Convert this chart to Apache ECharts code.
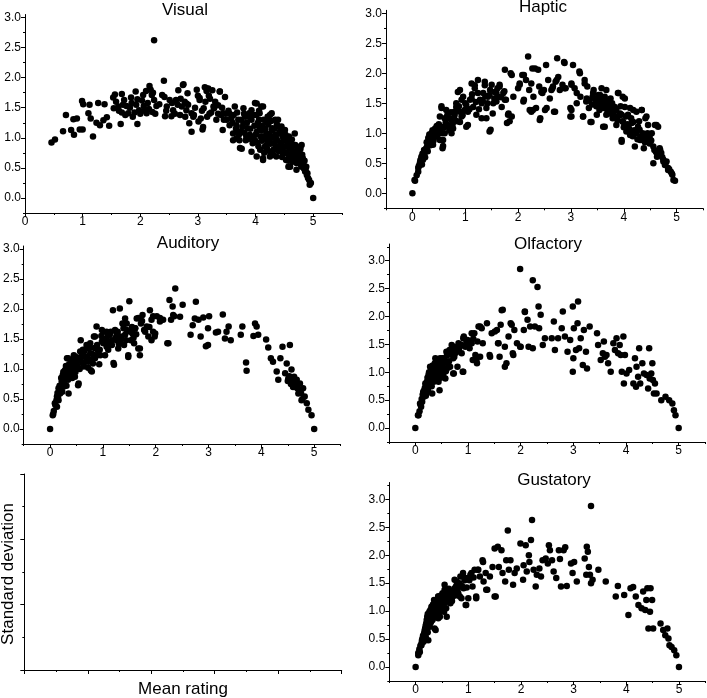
<!DOCTYPE html>
<html><head><meta charset="utf-8">
<script src="https://cdn.jsdelivr.net/npm/echarts@6/dist/echarts.min.js"></script>
<style>html,body{margin:0;padding:0;background:#fff}#c{width:707px;height:698px}</style>
</head><body><div id="c"></div>
<script>
const panelTitles = ['Visual', 'Haptic', 'Auditory', 'Olfactory', 'Gustatory'];
const xTickLabels = [0, 1, 2, 3, 4, 5];
const yTickLabels = [0, 0.5, 1, 1.5, 2, 2.5, 3];
const xMinorTicks = [-0.5, 0.5, 1.5, 2.5, 3.5, 4.5, 5.5];
const yMinorTicks = [-0.25, 0.25, 0.75, 1.25, 1.75, 2.25, 2.75, 3.25];
const emptyXTicks = [0, 1, 2, 3, 4, 5];
const emptyXMinor = [0.5, 1.5, 2.5, 3.5, 4.5];
const emptyYTicks = [0, 1, 2, 3];
const emptyYMinor = [0.5, 1.5, 2.5];
const yAxisTitle = 'Standard deviation';
const xAxisTitle = 'Mean rating';

const visualPts = [[0.46,0.92],[0.52,0.97],[0.71,1.38],[0.66,1.11],[0.80,1.13],[0.85,1.05],[0.84,1.31],[0.90,1.32],[0.95,1.14],[1.00,1.14],[0.99,1.61],[1.01,1.56],[1.12,1.55],[1.10,1.41],[1.14,1.32],[1.18,1.02],[1.27,1.58],[1.24,1.25],[1.30,1.21],[1.36,1.29],[1.38,1.56],[1.42,1.34],[1.46,1.20],[1.53,1.67],[1.56,1.72],[1.54,1.49],[1.62,1.52],[1.68,1.42],[1.68,1.73],[1.66,1.23],[1.72,1.63],[1.76,1.53],[1.79,1.41],[1.84,1.67],[1.87,1.35],[1.92,1.77],[1.95,1.64],[1.95,1.23],[1.98,1.46],[2.05,1.71],[2.06,1.53],[2.11,1.41],[2.10,1.78],[2.16,1.86],[2.18,1.80],[2.20,1.71],[2.21,1.43],[2.24,2.62],[2.24,1.63],[2.28,1.53],[2.33,1.56],[2.38,1.71],[2.41,1.95],[2.42,1.68],[2.43,1.36],[2.46,1.52],[2.51,1.63],[2.54,1.36],[2.57,1.46],[2.62,1.63],[2.66,1.79],[2.69,1.38],[2.75,1.89],[2.72,1.52],[2.77,1.60],[2.80,1.46],[2.82,1.74],[2.85,1.24],[2.89,1.10],[2.89,1.41],[2.93,1.38],[2.98,1.80],[3.01,1.27],[3.03,1.63],[3.05,1.32],[3.08,1.14],[3.10,1.49],[3.12,1.84],[3.15,1.78],[3.16,1.35],[3.18,1.82],[3.21,1.65],[3.23,1.42],[3.25,1.79],[3.28,1.49],[3.32,1.30],[3.35,1.54],[3.38,1.77],[3.40,1.38],[3.43,1.13],[3.47,1.68],[3.50,1.30],[3.53,1.45],[3.55,1.21],[3.58,1.32],[3.61,1.07],[3.64,1.52],[3.67,1.21],[3.70,1.30],[3.72,0.96],[3.74,1.10],[3.76,0.82],[3.79,1.49],[3.82,1.35],[3.83,0.96],[3.86,1.16],[3.89,1.41],[3.90,1.05],[3.93,1.30],[3.95,0.91],[3.99,1.58],[4.01,1.38],[4.02,1.10],[4.05,0.86],[4.06,1.30],[4.09,1.02],[4.10,1.52],[4.12,1.20],[4.13,0.66],[4.16,0.85],[4.19,1.07],[4.21,1.35],[4.23,0.96],[4.25,0.77],[4.28,1.41],[4.29,1.16],[4.32,0.91],[4.34,1.05],[4.36,0.69],[4.39,1.30],[4.41,1.07],[4.43,0.85],[4.45,1.19],[4.47,0.74],[4.49,0.96],[4.51,1.13],[4.53,0.63],[4.55,0.85],[4.57,0.52],[4.58,1.02],[4.60,0.72],[4.62,0.91],[4.64,0.60],[4.66,0.77],[4.68,1.07],[4.70,0.69],[4.72,0.85],[4.74,0.58],[4.77,0.74],[4.80,0.88],[4.82,0.66],[4.84,0.49],[4.87,0.46],[4.90,0.41],[4.91,0.33],[4.94,0.22],[5.00,0.00],
[4.02,1.57],[4.13,1.52],[3.93,1.46],[4.07,1.41],[4.25,1.38],[4.19,1.27],[4.34,1.30],[4.42,1.18],[4.07,1.18],[4.28,1.13],[4.48,1.05],[4.36,0.99],[4.13,1.02],[4.54,0.94],[4.62,0.85],[4.42,0.85],[4.68,0.77],[4.57,0.71],[4.74,0.69],[4.65,0.63],[4.25,0.69],[4.19,0.88],[4.31,0.80],[4.80,0.52],[4.86,0.44],[4.48,0.77],[3.99,0.96],[3.84,1.02],[3.79,1.24],[3.70,1.10],[3.61,0.96],[3.73,0.83],[3.93,0.77],[4.02,0.69],[4.13,0.63],[4.60,0.52],[4.71,0.47],[2.74,1.88],[3.15,1.82],[3.38,1.77],[2.80,1.57],[3.03,1.66],[3.27,1.52],[3.44,1.41],[2.92,1.35],[3.09,1.18],[3.67,0.99],
[3.55,1.40],[3.60,1.25],[3.62,1.38],[3.66,1.15],[3.68,1.42],[3.71,1.05],[3.75,1.30],[3.77,1.18],[3.80,1.40],[3.81,1.08],[3.85,1.25],[3.87,0.98],[3.88,1.35],[3.91,1.15],[3.94,1.00],[3.96,1.38],[3.98,1.20],[4.00,1.05],[4.03,0.92],[4.04,1.25],[4.06,1.45],[4.08,0.80],[4.10,1.12],[4.11,0.95],[4.14,1.30],[4.15,0.75],[4.17,1.15],[4.18,0.98],[4.20,0.82],[4.22,1.22],[4.24,1.05],[4.26,0.90],[4.27,1.28],[4.30,1.00],[4.31,0.72],[4.33,1.15],[4.35,0.85],[4.37,1.22],[4.38,0.95],[4.40,0.78],[4.42,1.10],[4.44,0.92],[4.46,0.68],[4.47,1.02],[4.50,0.85],[4.52,1.05],[4.53,0.75],[4.56,0.95],[4.57,0.62],[4.59,0.82],[4.61,0.68],[4.63,0.97],[4.64,0.78],[4.67,0.65],[4.69,0.88],[4.71,0.58],[4.73,0.78],[4.76,0.62],[4.78,0.82],[4.79,0.55],[4.81,0.72],[4.83,0.58],[4.85,0.62],[4.88,0.52],[4.89,0.38],[4.93,0.30],[4.96,0.25],
[2.45,1.45],[2.55,1.58],[2.60,1.40],[2.65,1.55],[2.70,1.65],[2.78,1.35],[2.83,1.55],[2.95,1.50],[3.00,1.70],[3.07,1.45],[3.13,1.60],[3.19,1.70],[3.20,1.40],[3.30,1.60],[3.35,1.40],[3.42,1.50],[3.45,1.30],[3.48,1.40],
[1.58,1.60],[1.63,1.45],[1.70,1.55],[1.74,1.38],[1.82,1.50],[1.85,1.58],[1.90,1.42],[1.93,1.55],[2.00,1.40],[2.03,1.62],[2.08,1.45],[2.13,1.58],[2.15,1.48],[2.22,1.75],[2.26,1.40]];

const hapticPts = [[0,0],[0.05,0.21],[0.11,0.42],[0.14,0.50],[0.17,0.61],[0.20,0.56],[0.23,0.67],[0.28,0.78],[0.30,0.92],[0.33,0.86],[0.36,1.00],[0.39,0.81],[0.42,0.94],[0.47,1.03],[0.51,1.08],[0.52,1.28],[0.55,1.42],[0.57,0.75],[0.58,0.89],[0.61,1.00],[0.64,1.39],[0.68,1.11],[0.71,1.25],[0.74,1.00],[0.77,1.08],[0.80,1.31],[0.83,1.44],[0.86,1.69],[0.90,1.19],[0.93,1.28],[0.96,1.61],[0.99,1.39],[1.02,1.11],[1.05,1.36],[1.09,1.56],[1.12,1.83],[1.15,1.44],[1.18,1.75],[1.21,1.31],[1.24,1.89],[1.28,1.56],[1.31,1.25],[1.34,1.67],[1.37,1.86],[1.40,1.42],[1.43,1.61],[1.46,1.03],[1.50,1.81],[1.52,1.33],[1.56,1.69],[1.59,1.53],[1.62,1.61],[1.65,1.81],[1.69,1.44],[1.72,1.67],[1.75,2.06],[1.77,1.56],[1.79,1.17],[1.82,1.33],[1.86,2.00],[1.88,1.28],[1.91,1.61],[2.00,1.75],[2.03,1.83],[2.08,1.97],[2.11,1.56],[2.15,1.89],[2.19,2.28],[2.21,1.72],[2.22,1.39],[2.25,1.36],[2.27,2.08],[2.29,1.61],[2.32,2.08],[2.34,1.42],[2.38,2.06],[2.40,1.78],[2.42,1.25],[2.46,1.67],[2.49,1.72],[2.53,2.14],[2.54,1.42],[2.57,1.89],[2.60,1.58],[2.65,1.75],[2.68,1.36],[2.71,1.86],[2.74,2.25],[2.76,1.94],[2.79,1.72],[2.84,1.81],[2.87,2.19],[2.90,1.75],[2.99,1.42],[2.99,1.28],[3.01,1.81],[3.04,2.14],[3.07,1.75],[3.11,1.50],[3.16,2.03],[3.18,1.61],[3.23,1.28],[3.26,1.89],[3.29,1.53],[3.31,1.78],[3.34,1.42],[3.37,1.19],[3.41,1.61],[3.43,1.72],[3.47,1.50],[3.49,1.31],[3.52,1.64],[3.54,1.39],[3.56,1.56],[3.58,1.75],[3.61,1.11],[3.62,1.42],[3.64,1.61],[3.67,1.31],[3.69,1.50],[3.72,1.39],[3.75,1.58],[3.79,1.25],[3.83,1.44],[3.86,1.14],[3.90,1.67],[3.93,1.33],[3.96,0.86],[3.98,1.61],[3.99,1.19],[4.02,1.44],[4.05,1.03],[4.08,1.31],[4.12,0.97],[4.15,1.17],[4.18,1.39],[4.21,0.78],[4.24,1.00],[4.27,1.11],[4.31,0.89],[4.34,1.39],[4.36,1.00],[4.38,0.75],[4.41,1.25],[4.43,0.92],[4.46,1.14],[4.49,0.83],[4.53,1.00],[4.56,0.50],[4.59,1.14],[4.61,0.69],[4.63,0.61],[4.65,1.11],[4.68,0.75],[4.71,0.67],[4.75,0.56],[4.78,0.47],[4.81,0.53],[4.84,0.42],[4.89,0.36],[4.92,0.31],[4.97,0.21],
[0.04,0.22],[0.11,0.36],[0.14,0.47],[0.17,0.58],[0.25,0.70],[0.31,0.80],[0.33,0.95],[0.39,0.97],[0.45,1.06],[0.55,1.11],[0.52,0.89],[0.58,0.79],[0.61,1.25],[0.67,1.14],[0.55,1.45],[0.74,1.22],[0.80,1.36],[0.90,1.36],[0.83,1.50],[0.93,1.56],[1.02,1.47],[1.05,1.14],[0.90,1.72],[1.12,1.58],[1.18,1.80],[1.24,1.67],[1.31,1.50],[1.37,1.80],[1.40,1.25],[1.46,1.64],[1.53,1.50],[1.59,1.67],[1.48,1.06],[1.65,1.78],[1.75,1.56],[1.81,1.31],[1.84,1.20],[1.88,1.97],[2.03,1.81],[2.10,1.53],[2.11,1.97],[2.25,1.83],[2.28,1.39],[2.41,1.22],[2.44,1.69],[2.51,1.39],[2.63,1.72],
[2.88,2.17],[3.17,2.00],[2.73,1.89],[2.66,1.78],[2.88,1.75],[3.01,1.83],[3.11,1.67],[3.26,1.83],[3.30,1.58],[3.42,1.67],[3.55,1.64],[3.67,1.72],[3.64,1.53],[3.74,1.44],[3.86,1.39],[3.96,1.31],[3.89,1.67],[4.02,1.58],[4.12,1.42],[4.24,1.36],[4.34,1.39],[4.18,1.19],[4.12,1.00],[4.30,1.06],[4.43,1.28],[4.37,0.89],[4.49,0.94],[4.62,1.14],[4.56,0.78],[4.65,0.69],[4.75,0.53],[4.84,0.39],[4.94,0.22],[3.96,0.89],[3.39,1.19],[3.23,1.28],[3.01,1.28],[3.01,1.39],[2.70,1.36],[3.64,1.11],
[0.08,0.30],[0.12,0.45],[0.15,0.55],[0.18,0.48],[0.19,0.66],[0.21,0.62],[0.22,0.72],[0.24,0.60],[0.26,0.75],[0.27,0.85],[0.29,0.70],[0.31,0.88],[0.32,0.98],[0.34,0.80],[0.35,0.90],[0.37,0.95],[0.38,1.05],[0.40,0.88],[0.41,1.00],[0.43,1.08],[0.44,0.95],[0.46,1.12],[0.48,0.98],[0.50,1.15],[0.53,1.05],[0.56,1.00],[0.60,1.10],[0.63,1.18],[0.66,1.30],[0.70,1.05],[0.73,1.35],[0.76,1.15],[0.79,1.25],[0.85,1.20],[0.88,1.45],[0.95,1.30],[1.00,1.50],[1.08,1.40],[1.13,1.65],[1.20,1.52],[1.26,1.40],[1.33,1.55],[1.38,1.62],[1.42,1.50],[1.47,1.72],[1.55,1.58],[1.61,1.75],[1.68,1.60],[1.74,1.70],
[3.35,1.55],[3.40,1.48],[3.45,1.58],[3.48,1.45],[3.50,1.55],[3.53,1.48],[3.57,1.42],[3.60,1.52],[3.63,1.45],[3.66,1.55],[3.68,1.40],[3.71,1.48],[3.73,1.33],[3.76,1.42],[3.78,1.50],[3.80,1.35],[3.82,1.28],[3.85,1.40],[3.88,1.22],[3.91,1.30],[3.94,1.45],[3.97,1.20],[4.00,1.10],[4.04,1.28],[4.07,1.15],[4.10,1.08],[4.14,1.25],[4.17,0.95],[4.20,1.05],[4.26,0.90],[4.29,1.20],[4.33,0.95],[4.40,0.85],[4.45,1.00],[4.52,0.88],[4.58,0.72],[4.64,0.65],[4.69,0.72],[4.73,0.60],[4.79,0.50],[4.86,0.40],[4.91,0.33]];

const auditoryPts = [[0,0],[0.05,0.23],[0.09,0.43],[0.13,0.54],[0.16,0.68],[0.19,0.59],[0.22,0.79],[0.24,0.90],[0.26,0.71],[0.28,0.98],[0.32,0.84],[0.34,1.18],[0.35,0.59],[0.38,1.04],[0.41,0.93],[0.43,1.13],[0.45,1.23],[0.47,0.87],[0.50,1.09],[0.54,0.76],[0.57,1.15],[0.58,1.48],[0.62,1.32],[0.64,1.04],[0.66,1.21],[0.69,1.40],[0.73,1.12],[0.76,1.26],[0.77,0.98],[0.81,1.09],[0.83,1.54],[0.85,1.18],[0.88,1.71],[0.91,1.32],[0.93,1.08],[0.95,1.23],[0.98,1.65],[1.01,1.43],[1.04,1.23],[1.07,1.62],[1.10,1.32],[1.13,1.57],[1.17,1.40],[1.19,1.98],[1.21,1.07],[1.23,1.65],[1.26,1.48],[1.29,1.34],[1.32,2.01],[1.34,1.54],[1.37,1.76],[1.40,1.40],[1.42,1.84],[1.45,1.65],[1.48,1.23],[1.50,2.13],[1.53,1.48],[1.56,1.59],[1.59,1.43],[1.61,1.68],[1.64,1.84],[1.67,1.34],[1.70,1.23],[1.72,1.76],[1.75,1.90],[1.78,1.65],[1.86,1.54],[1.89,1.98],[1.92,1.48],[1.95,1.88],[1.99,1.59],[2.02,1.88],[2.08,1.79],[2.14,1.82],[2.22,1.43],[2.26,2.15],[2.29,1.82],[2.32,2.04],[2.35,1.88],[2.37,2.34],[2.46,1.87],[2.51,2.07],[2.66,1.57],[2.70,1.73],[2.74,1.84],[2.76,2.12],[2.81,1.82],[2.85,1.54],[2.90,1.86],[2.95,1.38],[2.99,1.40],[2.99,1.68],[3.01,1.88],[3.14,1.61],[3.18,1.62],[3.27,1.91],[3.31,1.51],[3.34,1.62],[3.38,1.71],[3.42,1.48],[3.61,1.57],[3.64,1.71],[3.71,1.11],[3.72,0.97],[3.88,1.76],[3.91,1.71],[3.94,1.57],[3.85,1.55],[4.09,1.49],[4.13,1.36],[4.18,1.18],[4.22,1.12],[4.29,0.96],[4.32,0.82],[4.36,1.18],[4.40,1.37],[4.45,0.93],[4.48,1.09],[4.51,0.84],[4.54,1.40],[4.55,0.79],[4.57,0.99],[4.59,0.76],[4.62,0.87],[4.64,0.71],[4.67,0.82],[4.70,0.59],[4.73,0.76],[4.76,0.48],[4.79,0.68],[4.82,0.54],[4.86,0.43],[4.89,0.32],[4.95,0.23],[5.00,0.00],
[0.06,0.25],[0.13,0.37],[0.16,0.48],[0.19,0.65],[0.25,0.76],[0.32,0.87],[0.35,0.98],[0.41,1.10],[0.32,1.18],[0.50,1.18],[0.57,1.29],[0.63,1.23],[0.53,0.73],[0.69,1.34],[0.79,0.96],[0.76,1.43],[0.85,1.54],[0.91,1.29],[0.98,1.46],[1.01,1.62],[1.07,1.37],[1.20,1.10],[1.17,1.48],[1.26,1.59],[1.32,1.46],[1.42,1.57],[1.48,1.20],[1.45,1.76],[1.61,1.68],[1.70,1.34],[1.67,1.85],[1.83,1.71],[1.92,1.82],[1.98,1.54],[2.08,1.85],[2.24,1.43],[2.33,1.90],
[0.07,0.30],[0.10,0.40],[0.12,0.48],[0.14,0.60],[0.15,0.52],[0.17,0.62],[0.18,0.72],[0.20,0.68],[0.21,0.85],[0.23,0.62],[0.23,0.75],[0.25,0.95],[0.27,0.80],[0.29,0.88],[0.30,1.05],[0.31,0.72],[0.33,0.95],[0.34,0.82],[0.36,1.08],[0.37,0.90],[0.39,0.98],[0.40,1.15],[0.42,0.85],[0.44,1.02],[0.46,1.12],[0.48,0.95],[0.49,1.20],[0.52,1.05],[0.55,1.18],[0.56,1.00],[0.60,1.22],[0.61,1.10],[0.65,1.30],[0.67,1.12],[0.70,1.20],[0.72,1.02],[0.75,1.35],[0.78,1.15],[0.80,1.25],[0.84,1.35],[0.87,1.22],[0.89,1.40],[0.94,1.32],[0.97,1.55],[1.03,1.50],[1.06,1.45],[1.09,1.55],[1.12,1.45],[1.15,1.62],[1.24,1.52],[1.28,1.62],[1.30,1.42],[1.35,1.50],[1.39,1.68],[1.44,1.48],[1.52,1.62],[1.55,1.70],[1.58,1.52],[1.63,1.58],[1.74,1.80],[1.80,1.62],[1.88,1.70],[1.95,1.62],
[4.50,0.80],[4.53,0.88],[4.56,0.75],[4.58,0.82],[4.60,0.70],[4.63,0.80],[4.66,0.76],[4.68,0.68],[4.72,0.66],[4.75,0.60],[4.78,0.50]];

const olfactoryPts = [[0,0],[0.06,0.23],[0.11,0.38],[0.13,0.47],[0.16,0.56],[0.17,0.68],[0.21,0.62],[0.22,0.83],[0.25,0.74],[0.27,0.92],[0.28,1.10],[0.32,0.62],[0.33,0.98],[0.35,0.83],[0.38,1.25],[0.40,1.04],[0.42,0.89],[0.44,1.16],[0.46,0.68],[0.49,0.98],[0.51,1.25],[0.54,1.07],[0.57,0.89],[0.59,1.37],[0.61,1.16],[0.65,1.40],[0.66,1.10],[0.69,1.49],[0.73,0.98],[0.74,1.28],[0.78,1.40],[0.80,1.10],[0.84,1.46],[0.88,1.34],[0.90,1.01],[0.92,1.64],[0.95,1.46],[0.99,1.58],[1.03,1.43],[1.05,1.55],[1.09,1.22],[1.12,1.70],[1.14,1.31],[1.17,1.16],[1.20,1.82],[1.23,1.28],[1.26,1.79],[1.28,1.52],[1.36,1.88],[1.41,1.31],[1.45,1.70],[1.55,1.76],[1.58,1.52],[1.60,1.28],[1.62,1.85],[1.66,2.12],[1.70,1.46],[1.73,1.16],[1.77,1.64],[1.81,1.88],[1.85,1.34],[1.88,1.76],[1.93,1.52],[1.99,2.85],[2.00,1.46],[2.06,1.76],[2.08,2.09],[2.13,1.94],[2.15,1.46],[2.18,1.82],[2.23,2.65],[2.23,1.43],[2.27,1.82],[2.32,2.53],[2.34,2.18],[2.35,1.79],[2.38,2.03],[2.42,1.49],[2.46,1.61],[2.59,1.61],[2.63,1.91],[2.65,1.40],[2.71,1.61],[2.78,1.79],[2.80,2.09],[2.84,1.64],[2.89,1.37],[2.94,1.58],[2.99,2.18],[2.99,1.01],[3.00,1.25],[3.01,1.79],[3.05,1.40],[3.08,1.88],[3.09,2.27],[3.11,1.43],[3.14,1.61],[3.18,1.13],[3.20,1.76],[3.24,1.37],[3.26,1.07],[3.31,1.82],[3.45,1.70],[3.47,1.49],[3.52,1.22],[3.56,1.34],[3.58,1.55],[3.60,1.28],[3.63,1.31],[3.66,1.16],[3.71,1.01],[3.76,1.52],[3.79,1.40],[3.82,1.61],[3.85,1.34],[3.88,1.49],[3.90,1.31],[3.92,1.01],[3.95,1.64],[3.96,0.80],[3.98,1.31],[4.01,0.98],[4.06,1.04],[4.14,0.80],[4.17,1.25],[4.19,0.74],[4.20,1.10],[4.23,0.92],[4.25,1.43],[4.27,0.80],[4.31,1.16],[4.34,0.98],[4.39,0.95],[4.42,0.71],[4.44,1.43],[4.45,0.89],[4.48,0.98],[4.50,1.16],[4.51,0.86],[4.53,0.62],[4.55,0.80],[4.58,0.62],[4.67,0.50],[4.75,0.56],[4.82,0.50],[4.88,0.44],[4.91,0.32],[4.94,0.23],[5.00,0.00],
[0.05,0.23],[0.09,0.44],[0.15,0.65],[0.20,0.77],[0.25,0.95],[0.31,1.07],[0.37,1.16],[0.41,1.01],[0.47,1.25],[0.44,0.83],[0.56,1.19],[0.63,1.37],[0.72,1.46],[0.82,1.52],[0.91,1.61],[0.72,0.98],[0.91,1.01],[1.07,1.70],[1.16,1.22],[1.23,1.82],[1.42,1.28],[1.51,1.73],[1.64,2.11],[1.70,1.10],[1.57,1.52],[1.83,1.85],[1.86,1.31],[1.99,1.46],[2.08,2.08],
[0.08,0.30],[0.10,0.42],[0.12,0.52],[0.14,0.60],[0.18,0.72],[0.19,0.80],[0.20,0.58],[0.23,0.90],[0.24,0.68],[0.26,1.00],[0.27,0.80],[0.29,0.88],[0.30,1.05],[0.31,0.75],[0.33,1.12],[0.34,0.92],[0.36,1.02],[0.37,0.85],[0.39,1.18],[0.40,0.95],[0.42,1.08],[0.43,1.22],[0.45,1.00],[0.47,1.12],[0.48,0.90],[0.50,1.05],[0.52,1.15],[0.53,0.95],[0.55,1.25],[0.58,1.02],[0.60,1.30],[0.62,1.08],[0.64,1.20],[0.67,1.32],[0.70,1.40],[0.72,1.25],[0.75,1.45],[0.77,1.35],[0.83,1.42],[0.86,1.50],[0.93,1.48],[0.97,1.55],[1.00,1.50],[1.07,1.52],[1.10,1.60],[1.18,1.55]];

const gustatoryPts = [[0,0],[0.05,0.21],[0.08,0.27],[0.11,0.42],[0.13,0.51],[0.16,0.60],[0.18,0.69],[0.20,0.78],[0.22,0.90],[0.24,0.48],[0.26,0.99],[0.27,0.72],[0.30,1.08],[0.32,0.84],[0.35,1.20],[0.37,0.96],[0.38,0.66],[0.41,1.05],[0.43,1.26],[0.46,0.90],[0.49,1.14],[0.51,1.32],[0.54,0.99],[0.55,1.47],[0.59,0.90],[0.60,1.20],[0.64,1.35],[0.66,1.14],[0.70,1.26],[0.74,1.41],[0.78,1.53],[0.81,1.32],[0.85,1.62],[0.87,1.23],[0.90,1.68],[0.91,1.41],[0.95,1.11],[0.98,1.59],[1.00,1.23],[1.04,1.65],[1.08,1.44],[1.12,1.74],[1.15,1.26],[1.19,1.74],[1.22,1.62],[1.27,1.91],[1.29,1.53],[1.33,1.68],[1.36,1.38],[1.41,1.62],[1.46,1.79],[1.50,2.12],[1.52,1.26],[1.56,2.15],[1.58,1.79],[1.63,2.09],[1.65,1.68],[1.70,1.53],[1.72,1.91],[1.75,2.44],[1.77,1.74],[1.80,1.91],[1.85,1.47],[1.88,1.68],[1.92,1.76],[1.99,2.21],[2.04,1.56],[2.05,1.82],[2.09,2.18],[2.11,1.71],[2.15,2.00],[2.16,1.88],[2.19,2.27],[2.21,2.63],[2.24,1.74],[2.28,1.44],[2.30,1.65],[2.35,1.76],[2.38,1.62],[2.41,1.91],[2.47,1.94],[2.51,1.85],[2.53,2.18],[2.55,2.09],[2.59,1.91],[2.62,1.71],[2.67,1.59],[2.72,2.09],[2.74,1.93],[2.76,1.44],[2.81,2.09],[2.84,2.14],[2.87,1.45],[2.95,1.85],[2.98,1.68],[3.01,1.88],[3.06,1.53],[3.21,1.94],[3.24,1.65],[3.25,2.15],[3.27,2.06],[3.29,1.79],[3.31,1.65],[3.33,2.88],[3.33,1.50],[3.36,1.56],[3.47,1.74],[3.61,1.53],[3.80,1.26],[3.84,1.45],[3.96,1.29],[4.04,0.93],[4.08,1.41],[4.13,1.43],[4.18,1.26],[4.23,1.11],[4.29,1.05],[4.32,1.35],[4.36,1.02],[4.38,1.20],[4.40,1.41],[4.42,0.69],[4.45,0.99],[4.46,1.41],[4.49,1.20],[4.51,0.69],[4.65,0.78],[4.70,0.66],[4.74,0.57],[4.78,0.69],[4.80,0.51],[4.82,0.39],[4.86,0.36],[4.91,0.30],[4.95,0.21],[5.00,0.00],
[0.05,0.25],[0.11,0.39],[0.14,0.51],[0.21,0.66],[0.24,0.81],[0.30,0.90],[0.33,1.05],[0.40,1.14],[0.43,1.26],[0.49,1.20],[0.55,1.38],[0.62,1.29],[0.36,0.69],[0.43,0.87],[0.74,1.56],[0.68,1.23],[0.84,1.26],[0.96,1.11],[0.90,1.62],[1.06,1.68],[1.15,1.23],[1.18,1.74],[1.34,1.38],[1.50,1.26],[1.28,1.88],
[0.07,0.32],[0.09,0.38],[0.12,0.48],[0.14,0.56],[0.15,0.45],[0.17,0.65],[0.19,0.55],[0.19,0.74],[0.21,0.84],[0.23,0.62],[0.23,0.95],[0.25,0.76],[0.26,0.88],[0.28,1.02],[0.29,0.80],[0.31,0.95],[0.33,1.12],[0.34,0.88],[0.36,1.05],[0.38,0.92],[0.39,1.18],[0.40,1.00],[0.42,1.12],[0.44,0.95],[0.45,1.20],[0.47,1.05],[0.48,1.28],[0.50,1.10],[0.52,1.00],[0.53,1.22],[0.56,1.15],[0.57,1.30],[0.58,1.05],[0.61,1.25],[0.63,1.40],[0.65,1.22],[0.67,1.32],[0.69,1.18],[0.72,1.35],[0.75,1.28],[0.77,1.45],[0.80,1.40],[0.83,1.50],[0.88,1.45],[0.93,1.55],[0.97,1.42],[1.02,1.55],[1.10,1.60]];

const panelData = [visualPts, hapticPts, auditoryPts, olfactoryPts, gustatoryPts];

const layout = [
  {left: 25, top: 14.5, width: 317, height: 198.5, xMin: 0, xMax: 5.5, yMin: -0.25, yMax: 3.05, tx: 185, ty: 10},
  {left: 386, top: 10.3, width: 317, height: 198, xMin: -0.5, xMax: 5.5, yMin: -0.25, yMax: 3.05, tx: 543, ty: 7},
  {left: 23.6, top: 246, width: 317, height: 198, xMin: -0.5, xMax: 5.5, yMin: -0.25, yMax: 3.05, tx: 188, ty: 243},
  {left: 389, top: 244, width: 316, height: 198, xMin: -0.5, xMax: 5.5, yMin: -0.25, yMax: 3.3, tx: 548, ty: 244},
  {left: 389.3, top: 482.5, width: 316, height: 198.5, xMin: -0.5, xMax: 5.5, yMin: -0.25, yMax: 3.3, tx: 554, ty: 480}
];
const emptyLayout = {left: 24.3, top: 474, width: 317.4, height: 196, xMin: 0, xMax: 5, yMin: 0, yMax: 3};

const black = '#000';
const tickFont = {color: black, fontSize: 12, fontFamily: 'Liberation Sans, Arial, sans-serif'};
const grids = [], xAxes = [], yAxes = [], series = [], graphics = [];

function addAxes(gi, L, xMaj, xMin, yMaj, yMin, labels) {
  xAxes.push({gridIndex: gi, type: 'value', position: 'bottom', min: L.xMin, max: L.xMax,
    axisLine: {show: true, onZero: false, lineStyle: {color: black, width: 1}},
    axisTick: {show: true, customValues: xMaj, length: 4, lineStyle: {color: black, width: 1}},
    axisLabel: Object.assign({show: labels, customValues: xMaj, margin: 3}, tickFont),
    splitLine: {show: false}});
  xAxes.push({gridIndex: gi, type: 'value', position: 'bottom', min: L.xMin, max: L.xMax,
    axisLine: {show: false, onZero: false},
    axisTick: {show: true, customValues: xMin, length: 2, lineStyle: {color: black, width: 1}},
    axisLabel: {show: false}, splitLine: {show: false}});
  yAxes.push({gridIndex: gi, type: 'value', position: 'left', min: L.yMin, max: L.yMax,
    axisLine: {show: true, onZero: false, lineStyle: {color: black, width: 1}},
    axisTick: {show: true, customValues: yMaj, length: 4, lineStyle: {color: black, width: 1}},
    axisLabel: Object.assign({show: labels, customValues: yMaj, margin: 4, formatter: v => Number(v).toFixed(1)}, tickFont),
    splitLine: {show: false}});
  yAxes.push({gridIndex: gi, type: 'value', position: 'left', min: L.yMin, max: L.yMax,
    axisLine: {show: false, onZero: false},
    axisTick: {show: true, customValues: yMin, length: 2, lineStyle: {color: black, width: 1}},
    axisLabel: {show: false}, splitLine: {show: false}});
}

layout.forEach((L, i) => {
  grids.push({left: L.left, top: L.top, width: L.width, height: L.height, containLabel: false});
  const xm = xMinorTicks.filter(v => v >= L.xMin && v <= L.xMax);
  const ym = yMinorTicks.filter(v => v >= L.yMin && v <= L.yMax);
  addAxes(i, L, xTickLabels, xm, yTickLabels, ym, true);
  series.push({type: 'scatter', xAxisIndex: 2 * i, yAxisIndex: 2 * i, data: panelData[i],
    symbol: 'circle', symbolSize: 6.5, itemStyle: {color: black, opacity: 1}, silent: true});
  graphics.push({type: 'text', x: L.tx, y: L.ty, silent: true,
    style: {text: panelTitles[i], textAlign: 'center', textVerticalAlign: 'middle', fill: black,
      font: '17px "Liberation Sans", Arial, sans-serif'}});
});

grids.push({left: emptyLayout.left, top: emptyLayout.top, width: emptyLayout.width, height: emptyLayout.height, containLabel: false});
addAxes(5, emptyLayout, emptyXTicks, emptyXMinor, emptyYTicks, emptyYMinor, false);

graphics.push({type: 'text', x: 8, y: 574, rotation: Math.PI / 2, silent: true,
  style: {text: yAxisTitle, textAlign: 'center', textVerticalAlign: 'middle', fill: black,
    font: '17px "Liberation Sans", Arial, sans-serif'}});
graphics.push({type: 'text', x: 183, y: 689, silent: true,
  style: {text: xAxisTitle, textAlign: 'center', textVerticalAlign: 'middle', fill: black,
    font: '17px "Liberation Sans", Arial, sans-serif'}});

const chart = echarts.init(document.getElementById('c'), null, {renderer: 'canvas'});
chart.setOption({
  animation: false,
  backgroundColor: '#fff',
  grid: grids, xAxis: xAxes, yAxis: yAxes, series: series,
  graphic: graphics
});
</script></body></html>
